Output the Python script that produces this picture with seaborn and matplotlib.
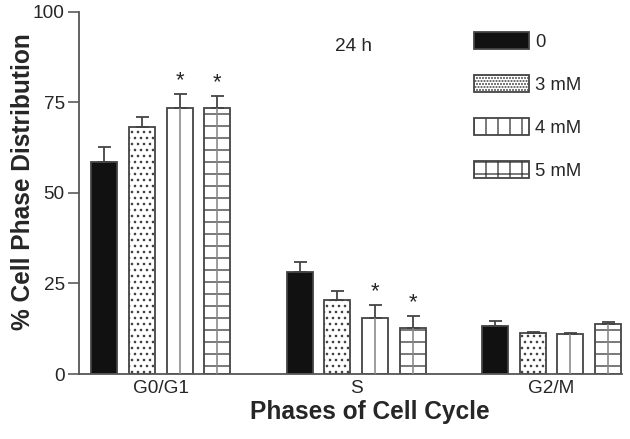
import matplotlib
matplotlib.use("Agg")
import matplotlib.pyplot as plt
import seaborn as sns
import pandas as pd
from matplotlib.patches import Patch

phases = ["G0/G1", "S", "G2/M"]
doses = ["0", "3 mM", "4 mM", "5 mM"]
means = {
    "0":    [58.5, 28.2, 13.3],
    "3 mM": [68.2, 20.4, 11.3],
    "4 mM": [73.5, 15.5, 11.0],
    "5 mM": [73.5, 12.7, 13.8],
}
errs = {
    "0":    [4.2, 2.7, 1.3],
    "3 mM": [2.8, 2.5, 0.3],
    "4 mM": [3.8, 3.6, 0.3],
    "5 mM": [3.3, 3.3, 0.6],
}
signif = {
    "0":    [False, False, False],
    "3 mM": [False, False, False],
    "4 mM": [True, True, False],
    "5 mM": [True, True, False],
}
bar_hatches = {"0": "", "3 mM": "..", "4 mM": "", "5 mM": "-"}
leg_hatches = {"0": "", "3 mM": "....", "4 mM": "|", "5 mM": "+"}
center_line = {"0": False, "3 mM": False, "4 mM": True, "5 mM": True}
faces = {"0": "#111111", "3 mM": "white", "4 mM": "white", "5 mM": "white"}

rows = []
for d in doses:
    for p, m in zip(phases, means[d]):
        rows.append({"phase": p, "dose": d, "value": m})
df = pd.DataFrame(rows)

sns.set_style("white")
plt.rcParams["font.family"] = ["Liberation Sans", "DejaVu Sans"]
plt.rcParams["hatch.color"] = "#555555"
plt.rcParams["hatch.linewidth"] = 1.4

DPI = 72
fig = plt.figure(figsize=(630 / DPI, 439 / DPI), dpi=DPI)
ax = fig.add_axes([0.125, 0.148, 0.862, 0.825])

sns.barplot(data=df, x="phase", y="value", hue="dose", order=phases,
            hue_order=doses, width=0.77, gap=0.31, errorbar=None,
            palette=["#111111"] * 4, legend=False, ax=ax)

EC = "#444444"
for d, cont in zip(doses, ax.containers):
    for i, bar in enumerate(cont):
        bar.set_facecolor(faces[d])
        bar.set_edgecolor(EC)
        bar.set_linewidth(1.8)
        bar.set_hatch(bar_hatches[d])
        xc = bar.get_x() + bar.get_width() / 2
        h = bar.get_height()
        if center_line[d]:
            ax.vlines(xc, 0, h, color="#888888", linewidth=1.6, zorder=3)
        ax.errorbar([xc], [h], yerr=[[0], [errs[d][i]]], fmt="none",
                    ecolor=EC, elinewidth=1.8, capsize=6.5,
                    capthick=1.8, zorder=1)
        if signif[d][i]:
            ax.text(xc, h + errs[d][i] + 3.6, "*", ha="center",
                    va="center", fontsize=22)

ax.set_ylim(0, 100)
ax.set_xlim(-0.42, 2.36)
ax.set_yticks([0, 25, 50, 75, 100])
ax.tick_params(axis="y", which="major", direction="out", length=11,
               width=1.6, color="#555555", labelsize=19, pad=3, left=True)
ax.tick_params(axis="x", length=0, labelsize=19, pad=6)
for s in ["top", "right"]:
    ax.spines[s].set_visible(False)
for s in ["left", "bottom"]:
    ax.spines[s].set_color("#555555")
    ax.spines[s].set_linewidth(1.8)

ax.set_ylabel("% Cell Phase Distribution", fontsize=24.5, fontweight="bold",
              va="center")
ax.yaxis.set_label_coords(-0.103, 0.53)
ax.set_xlabel("Phases of Cell Cycle", fontsize=24.5, fontweight="bold",
              va="center")
ax.xaxis.set_label_coords(0.536, -0.105)

ax.text(0.506, 0.905, "24 h", transform=ax.transAxes, fontsize=19,
        ha="center", va="center")

handles = [Patch(facecolor=faces[d], edgecolor=EC, hatch=leg_hatches[d],
                 linewidth=1.8, label=d) for d in doses]
leg = ax.legend(handles=handles, loc="upper left", frameon=False,
                fontsize=18.5, handlelength=2.95, handleheight=1.05,
                labelspacing=1.3, handletextpad=0.35,
                borderaxespad=0, bbox_to_anchor=(0.715, 0.965))

fig.savefig("out.png", dpi=DPI)
